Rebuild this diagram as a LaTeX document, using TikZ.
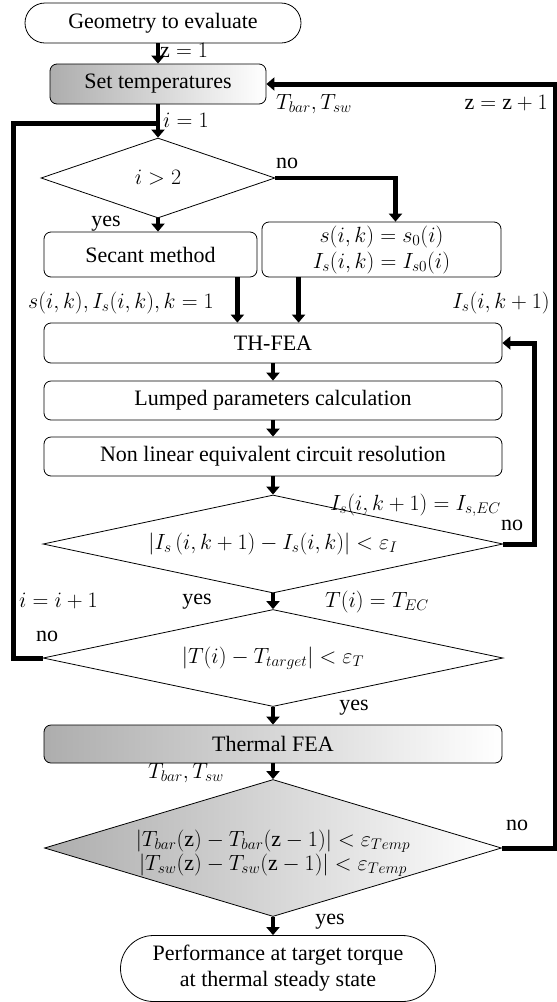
\documentclass[tikz,border=0pt]{standalone}
\usepackage{fix-cm}
\usepackage{fontspec}
\setmainfont{Liberation Serif}
\usetikzlibrary{shapes.geometric,shapes.misc,arrows.meta}
\tikzset{
    big-font/.style = {font=\fontsize{22}{26}\selectfont},
    flow-box/.style = {draw, line width=0.8pt, rectangle, rounded corners=7pt, fill=white, inner sep=0pt, big-font, align=center},
    grey-box/.style = {flow-box, left color=black!32, right color=white},
    decision/.style = {draw, line width=0.8pt, diamond, inner sep=0pt, fill=white, big-font},
    terminal/.style = {draw, line width=0.8pt, rounded rectangle, inner sep=0pt, big-font, align=center},
    flow-arrow/.style = {line width=4.5pt, -{Triangle[width=13pt,length=8pt]}},
    loop-line/.style = {line width=5pt},
    tag/.style = {big-font, inner sep=0pt},
}

\begin{document}
\begin{tikzpicture}[x=1pt, y=-1pt]
\useasboundingbox (0,0) rectangle (557,1002);
% main column
\node[terminal, minimum width=276pt, minimum height=40pt] (start) at (163,23) {Geometry to evaluate};
\node[grey-box, minimum width=216pt, minimum height=40pt] (set) at (158,84) {Set temperatures};
\node[decision, minimum width=234pt, minimum height=80pt] (d1) at (158,178) {$i>2$};
\node[flow-box, minimum width=213pt, minimum height=45pt] (secant) at (150.5,254.5) {Secant method};
\node[flow-box, minimum width=239pt, minimum height=55pt] (init) at (381.5,249.5) {$s(i,k)=s_0(i)$\\$I_s(i,k)=I_{s0}(i)$};
\node[flow-box, minimum width=458pt, minimum height=40pt] (thfea) at (273,343) {TH-FEA};
\node[flow-box, minimum width=458pt, minimum height=39pt] (lumped) at (273,400.5) {Lumped parameters calculation};
\node[flow-box, minimum width=458pt, minimum height=39pt] (circuit) at (273,456.5) {Non linear equivalent circuit resolution};
\node[decision, aspect=4.7, minimum width=460pt, minimum height=98pt] (d2) at (273,544) {$|I_s\,(i,k+1)-I_s(i,k)|<\varepsilon_I$};
\node[decision, aspect=4.7, minimum width=460pt, minimum height=97pt] (d3) at (273,658) {$\left|T(i)-T_{target}\right|<\varepsilon_T$};
\node[grey-box, minimum width=458pt, minimum height=38pt] (thermal) at (273,744) {Thermal FEA};
\node[decision, left color=black!32, right color=white, minimum width=457pt, minimum height=137pt] (d4) at (273,848) {};
\node[tag, align=center, font=\fontsize{22}{24}\selectfont] (d4-text) at ([yshift=-5pt]d4.center) {$|T_{bar}(\mathrm{z})-T_{bar}(\mathrm{z}-1)|<\varepsilon_{Temp}$\\$|T_{sw}(\mathrm{z})-T_{sw}(\mathrm{z}-1)|<\varepsilon_{Temp}$};
\node[terminal, minimum width=315pt, minimum height=66pt] (end) at (278,968.5) {Performance at target torque\\at thermal steady state};
\coordinate (rejoin) at (158,123);

% arrows
\draw[flow-arrow] (start.south -| set.north) -- (set.north);
\draw[flow-arrow] (set.south) -- (d1.north);
\draw[flow-arrow] (d1.south) -- (d1.south |- secant.north);
\draw[flow-arrow] (d1.east) -| ([xshift=14pt]init.north);
\draw[flow-arrow] ([xshift=-20pt]secant.south east) -- ([xshift=-20pt]secant.south east |- thfea.north);
\draw[flow-arrow] ([xshift=37pt]init.south west) -- ([xshift=37pt]init.south west |- thfea.north);
\draw[flow-arrow] (thfea.south) -- (lumped.north);
\draw[flow-arrow] (lumped.south) -- (circuit.north);
\draw[flow-arrow] (circuit.south) -- (d2.north);
\draw[flow-arrow] (d2.south) -- (d3.north);
\draw[flow-arrow] (d3.south) -- (thermal.north);
\draw[flow-arrow] (thermal.south) -- (d4.north);
\draw[flow-arrow] (d4.south) -- (d4.south |- end.north);

% loops
\draw[loop-line, -{Triangle[width=13pt,length=8pt]}] (d2.east) -- ++(31,0) |- (thfea.east);
\draw[loop-line] (d3.west) -- ++(-29,0) |- (rejoin);
\draw[loop-line, -{Triangle[width=13pt,length=8pt]}] (d4.east) -- ++(54,0) |- (set.east);

% labels
\node[tag, anchor=west] (z-init) at (160,50) {$\mathrm{z}=1$};
\node[tag, anchor=west] (temps-top) at (276,104) {$T_{bar},T_{sw}$};
\node[tag, anchor=east] (z-next) at (548,103) {$\mathrm{z}=\mathrm{z}+1$};
\node[tag, anchor=west] (i-init) at (163,120) {$i=1$};
\node[tag] (no-1) at (287,163) {no};
\node[tag] (yes-1) at (106,224) {yes};
\node[tag, anchor=east] (s-first) at (214,303) {$s(i,k),I_s(i,k),k=1$};
\node[tag, anchor=east] (is-next) at (550,303) {$I_s(i,k+1)$};
\node[tag, anchor=east] (is-ec) at (501,505) {$I_s(i,k+1)=I_{s,EC}$};
\node[tag] (no-2) at (512,525) {no};
\node[tag, anchor=west] (i-next) at (19,601) {$i=i+1$};
\node[tag] (yes-2) at (197,602) {yes};
\node[tag, anchor=west] (t-ec) at (325,602) {$T(i)=T_{EC}$};
\node[tag] (no-3) at (47,636) {no};
\node[tag] (yes-3) at (354,708) {yes};
\node[tag, anchor=west] (temps-bottom) at (148,773) {$T_{bar},T_{sw}$};
\node[tag] (no-4) at (517,825) {no};
\node[tag] (yes-4) at (330,922) {yes};
\end{tikzpicture}
\end{document}
